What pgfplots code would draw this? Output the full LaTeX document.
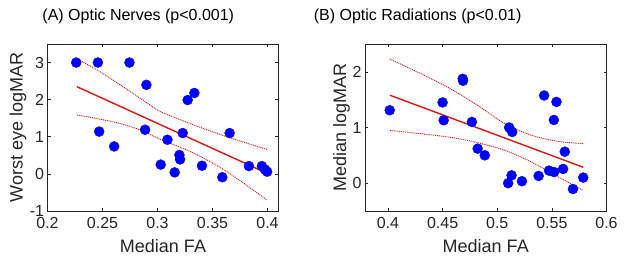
\documentclass[border=0pt]{standalone}
\usepackage{fontspec}
\setmainfont{Liberation Sans}
\usepackage{pgfplots}
\pgfplotsset{compat=1.18}
\definecolor{axgray}{RGB}{38,38,38}
\definecolor{fitred}{RGB}{225,20,20}
\pgfplotsset{
  myax/.style={
    scale only axis, height=167bp,
    axis line style={axgray, line width=0.6bp},
    every tick/.style={axgray, line width=0.6bp},
    major tick length=3bp, tick align=inside,
    tick label style={font=\fontsize{16bp}{18bp}\selectfont, text=axgray},
    label style={font=\fontsize{18bp}{20bp}\selectfont, text=axgray},
    title style={font=\fontsize{16bp}{18bp}\selectfont, text=black, anchor=center},
    /pgf/number format/assume math mode=true,
    /pgf/number format/fixed,
    xticklabel style={/pgf/number format/precision=2, yshift=-3bp},
    scatter/.style={only marks, mark=*, mark size=5bp, mark options={draw=blue, fill=blue}},
  },
  fitline/.style={fitred, line width=1.4bp, no marks},
  ciline/.style={fitred, line width=0.9bp, dash pattern=on 1bp off 0.9bp, no marks, smooth},
}
\begin{document}
\begin{tikzpicture}
% ---------------- Panel A ----------------
\begin{axis}[myax,
  at={(0bp,0bp)}, anchor=south west, width=231bp,
  xmin=0.2, xmax=0.41, ymin=-1, ymax=3.5,
  xtick={0.2,0.25,0.3,0.35,0.4}, ytick={-1,0,1,2,3},
  xlabel={Median FA}, ylabel={Worst eye logMAR},
  xlabel style={at={(axis description cs:0.5,-0.208)}, anchor=center},
  ylabel style={at={(axis description cs:-0.128,0.5)}, anchor=center},
  title={(A) Optic Nerves (p<0.001)},
  title style={at={(axis description cs:0.393,1.129)}},
]
\addplot[ciline] coordinates {(0.2267,3.10) (0.2464,2.78) (0.2736,2.25) (0.2917,1.89) (0.3026,1.68) (0.3329,1.32) (0.3631,1.00) (0.3994,0.66)};
\addplot[ciline] coordinates {(0.2267,1.59) (0.2615,1.39) (0.2857,1.17) (0.3026,0.93) (0.3329,0.56) (0.3631,0.06) (0.3994,-0.70)};
\addplot[fitline] coordinates {(0.2267,2.35) (0.3994,0.02)};
\addplot[scatter] coordinates {
(0.2261,3.00) (0.2458,3.00) (0.2745,3.00) (0.2899,2.40) (0.3335,2.18) (0.3274,1.99)
(0.2470,1.14) (0.2887,1.19) (0.2606,0.74) (0.3090,0.92) (0.3229,1.10) (0.3656,1.10)
(0.3199,0.51) (0.3205,0.39) (0.3029,0.25) (0.3156,0.04) (0.3404,0.22) (0.3589,-0.09)
(0.3831,0.21) (0.3949,0.21) (0.3976,0.12) (0.3997,0.06)};
\end{axis}
% ---------------- Panel B ----------------
\begin{axis}[myax,
  at={(317.5bp,0bp)}, anchor=south west, width=241.5bp,
  xmin=0.379, xmax=0.6, ymin=-0.5, ymax=2.5,
  xtick={0.4,0.45,0.5,0.55,0.6}, ytick={0,1,2},
  xlabel={Median FA}, ylabel={Median logMAR},
  xlabel style={at={(axis description cs:0.5,-0.208)}, anchor=center},
  ylabel style={at={(axis description cs:-0.097,0.5)}, anchor=center},
  title={(B) Optic Radiations (p<0.01)},
  title style={at={(axis description cs:0.218,1.129)}},
]
\addplot[ciline] coordinates {(0.4017,2.23) (0.4246,2.02) (0.4551,1.72) (0.4795,1.43) (0.507,1.07) (0.5313,0.86) (0.556,0.75) (0.5786,0.71)};
\addplot[ciline] coordinates {(0.4017,0.95) (0.4246,0.90) (0.4551,0.83) (0.4795,0.74) (0.507,0.59) (0.5313,0.38) (0.556,0.11) (0.5786,-0.13)};
\addplot[fitline] coordinates {(0.4017,1.58) (0.5788,0.285)};
\addplot[scatter] coordinates {
(0.4016,1.31) (0.4500,1.45) (0.4510,1.13) (0.4684,1.875) (0.4687,1.84) (0.4768,1.10)
(0.4821,0.62) (0.4886,0.50) (0.5109,1.00) (0.5137,0.92) (0.5100,0.00) (0.5131,0.14)
(0.5226,0.035) (0.5429,1.575) (0.5542,1.46) (0.5518,1.135) (0.5379,0.13) (0.5474,0.225)
(0.5520,0.20) (0.5603,0.255) (0.5618,0.565) (0.5693,-0.105) (0.5787,0.10)};
\end{axis}
\useasboundingbox (-47.5bp,-52bp) rectangle (579.5bp,211bp);
\end{tikzpicture}
\end{document}
